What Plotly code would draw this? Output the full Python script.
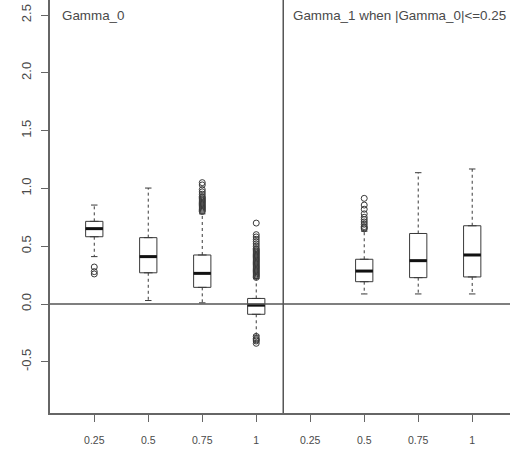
import plotly.graph_objects as go

# ---- data ----
tick_labels = ['0.25', '0.5', '0.75', '1', '0.25', '0.5', '0.75', '1']
slots = [1, 2, 3, 4, 5, 6, 7, 8]
box_slots = [1, 2, 3, 4, 6, 7, 8]          # right panel has no box at 0.25
lower = [0.41, 0.03, 0.01, -0.27, 0.087, 0.087, 0.087]
q1 = [0.582, 0.27, 0.144, -0.089, 0.193, 0.228, 0.234]
med = [0.652, 0.41, 0.265, -0.01, 0.285, 0.375, 0.424]
q3 = [0.715, 0.574, 0.424, 0.048, 0.387, 0.61, 0.677]
upper = [0.856, 1.003, 0.78, 0.22, 0.63, 1.136, 1.168]
outliers = [
    [0.32, 0.28, 0.26],
    [],
    [1.05, 1.03, 0.99, 0.97, 0.95, 0.93, 0.92, 0.91, 0.90, 0.89, 0.88, 0.87,
     0.86, 0.85, 0.84, 0.83, 0.82, 0.81, 0.80],
    [0.70, 0.60, 0.58, 0.56, 0.54, 0.52, 0.50, 0.48, 0.47, 0.46, 0.45, 0.44,
     0.43, 0.42, 0.41, 0.40, 0.39, 0.38, 0.37, 0.36, 0.35, 0.34, 0.33, 0.32,
     0.31, 0.30, 0.29, 0.28, 0.27, 0.26, 0.25, 0.24, 0.23,
     -0.28, -0.30, -0.31, -0.32, -0.34],
    [0.914, 0.856, 0.82, 0.78, 0.75, 0.73, 0.71, 0.69, 0.67, 0.66, 0.65],
    [],
    [],
]
panel_titles = ['Gamma_0', 'Gamma_1 when |Gamma_0|<=0.25']

BOXW = 0.32
CAPW = 0.06
LINE = '#3a3a3a'
AX = '#666666'
TXT = '#4a4a4a'
FONT = 'Liberation Sans, Arial, sans-serif'

fig = go.Figure()

# boxes (whiskers drawn separately as dashed lines)
fig.add_trace(go.Box(
    x=box_slots, q1=q1, median=med, q3=q3, lowerfence=q1, upperfence=q3,
    width=BOXW, fillcolor='white', line=dict(color=LINE, width=1),
    boxpoints=False, hoverinfo='skip', showlegend=False))

# dashed whiskers, staples, thick medians
wx, wy, cx, cy, mx, my = [], [], [], [], [], []
for p, lo, a, m, b, hi in zip(box_slots, lower, q1, med, q3, upper):
    wx += [p, p, None, p, p, None]
    wy += [b, hi, None, a, lo, None]
    cx += [p - CAPW, p + CAPW, None, p - CAPW, p + CAPW, None]
    cy += [hi, hi, None, lo, lo, None]
    mx += [p - BOXW / 2, p + BOXW / 2, None]
    my += [m, m, None]
fig.add_trace(go.Scatter(x=wx, y=wy, mode='lines',
                         line=dict(color=LINE, width=1, dash='3px,3px'),
                         hoverinfo='skip', showlegend=False))
fig.add_trace(go.Scatter(x=cx, y=cy, mode='lines',
                         line=dict(color=LINE, width=1),
                         hoverinfo='skip', showlegend=False))
fig.add_trace(go.Scatter(x=mx, y=my, mode='lines',
                         line=dict(color='#111111', width=3),
                         hoverinfo='skip', showlegend=False))

# outliers
ox, oy = [], []
for p, vals in zip(box_slots, outliers):
    ox += [p] * len(vals)
    oy += vals
fig.add_trace(go.Scatter(x=ox, y=oy, mode='markers',
                         marker=dict(symbol='circle-open', size=6,
                                     color=LINE, line=dict(width=1)),
                         hoverinfo='skip', showlegend=False))

fig.update_layout(
    width=510, height=454,
    margin=dict(l=50, r=0, t=0, b=41),
    paper_bgcolor='white', plot_bgcolor='white',
    font=dict(family=FONT, color=TXT),
    xaxis=dict(range=[0.18, 8.70], tickmode='array', tickvals=slots,
               ticktext=tick_labels, showgrid=False, zeroline=False,
               showline=True, linecolor=AX, linewidth=1.5,
               ticks='outside', ticklen=7, tickcolor=AX, tickwidth=1,
               tickfont=dict(size=10.5, color=TXT), ticklabelstandoff=10),
    yaxis=dict(range=[-0.943, 2.63], tickmode='array',
               tickvals=[-0.5, 0, 0.5, 1.0, 1.5, 2.0, 2.5],
               ticktext=['-0.5', '0.0', '0.5', '1.0', '1.5', '2.0', '2.5'],
               tickangle=-90, showgrid=False, zeroline=False,
               showline=True, linecolor=AX, linewidth=1.5,
               ticks='outside', ticklen=7, tickcolor=AX, tickwidth=1,
               tickfont=dict(size=13, color=TXT), ticklabelstandoff=5),
    shapes=[
        dict(type='line', xref='paper', x0=0, x1=1, yref='y', y0=0, y1=0,
             line=dict(color='#555555', width=1.5)),
        dict(type='line', xref='x', x0=4.5, x1=4.5, yref='paper', y0=0, y1=1,
             line=dict(color='#555555', width=1.5)),
    ],
    annotations=[
        dict(text=panel_titles[0], xref='paper', yref='paper',
             x=10 / 460, y=1 - 15 / 413, xanchor='left', yanchor='middle',
             showarrow=False, font=dict(size=13.4, color=TXT)),
        dict(text=panel_titles[1], xref='paper', yref='paper',
             x=241 / 460, y=1 - 15 / 413, xanchor='left', yanchor='middle',
             showarrow=False, font=dict(size=13.4, color=TXT)),
    ],
)

fig.write_html('out.html', config={'displayModeBar': False},
               post_script="document.body.style.margin='0';"
                           "document.body.style.padding='0';")
